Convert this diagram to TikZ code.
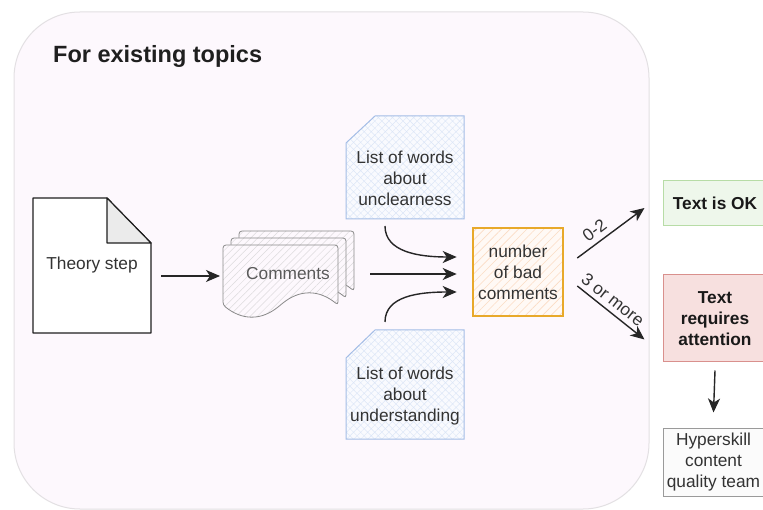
\documentclass[tikz,border=0pt]{standalone}
\usepackage{fontspec}
\setmainfont{Liberation Sans}
\usetikzlibrary{arrows.meta,patterns.meta,calc}
\definecolor{bigfill}{HTML}{FDF8FD}
\definecolor{bigdraw}{HTML}{E3E0E3}
\definecolor{carddraw}{HTML}{A4BDE6}
\definecolor{cardhatch}{HTML}{DCE6F7}
\definecolor{cardfill}{HTML}{F9FAFE}
\definecolor{numdraw}{HTML}{E8A92A}
\definecolor{numhatch}{HTML}{FBDCC4}
\definecolor{numfill}{HTML}{FFF9F5}
\definecolor{okdraw}{HTML}{B7DCA6}
\definecolor{okfill}{HTML}{EEF7EB}
\definecolor{reqdraw}{HTML}{D9908D}
\definecolor{reqfill}{HTML}{F7E0DF}
\definecolor{hypdraw}{HTML}{9A9A9A}
\definecolor{hypfill}{HTML}{FBFBFB}
\definecolor{commdraw}{HTML}{8A8A8A}
\definecolor{commhatch}{HTML}{DDDBDD}
\definecolor{txtc}{HTML}{333333}
\newcommand\mydocpage[5]{%
  \path[commdoc] (#1,#2) -- ({#1+#3},#2) -- ({#1+#3},{#2+#4-#5/2})
    .. controls ({#1+5*#3/6},{#2+#4-1.1*#5}) and ({#1+2*#3/3},{#2+#4-1.1*#5}) .. ({#1+#3/2},{#2+#4-#5/2})
    .. controls ({#1+#3/3},{#2+#4+0.1*#5}) and ({#1+#3/6},{#2+#4+0.1*#5}) .. (#1,{#2+#4-#5/2}) -- cycle;}
\tikzset{
  txt/.style={text=txtc, align=center, inner sep=0pt},
  arr/.style={-{Stealth[length=14pt,width=12pt,inset=4pt]}, line width=1.4pt, draw=black!85},
  ghost/.style={inner sep=0pt, outer sep=0pt},
  commdoc/.style={draw=commdraw, line width=0.8pt, rounded corners=3pt, preaction={fill=bigfill},
    pattern={Lines[angle=45,distance=5pt,line width=0.5pt]}, pattern color=commhatch},
  cardshape/.style={draw=carddraw, line width=1pt, preaction={fill=cardfill},
    pattern={Hatch[angle=45,distance=5pt,line width=0.45pt]}, pattern color=cardhatch},
  numbox/.style={draw=numdraw, line width=1.2pt, preaction={fill=numfill},
    pattern={Lines[angle=45,distance=6pt,line width=0.6pt]}, pattern color=numhatch,
    text=txtc, align=center, inner sep=0pt},
  okbox/.style={draw=okdraw, fill=okfill, line width=1pt, text=black!90, align=center, font=\bfseries\fontsize{17.3}{21}\selectfont, inner sep=0pt},
  reqbox/.style={draw=reqdraw, fill=reqfill, line width=1pt, text=black!90, align=center, font=\bfseries\fontsize{17.3}{21}\selectfont, inner sep=0pt},
  hypbox/.style={draw=hypdraw, fill=hypfill, line width=1pt, text=txtc, align=center, inner sep=0pt},
  lbl/.style={text=txtc, inner sep=0pt}
}
\begin{document}
\begin{tikzpicture}[x=1pt,y=-1pt,font=\fontsize{17.3}{21}\selectfont]
\useasboundingbox (0,0) rectangle (763,510);
\clip (0,0) rectangle (763,510);
\fill[white] (0,0) rectangle (763,510);
% container
\draw[draw=bigdraw, fill=bigfill, line width=1pt, rounded corners=66pt] (14,12) rectangle (649,509);
\node[anchor=west, text=black!88, inner sep=0pt, font=\bfseries\fontsize{23.5}{28}\selectfont] (title) at (53,56) {For existing topics};
% theory step document
\draw[draw=black!88, fill=white, line width=1.2pt, line join=round] (33,198) -- (107,198) -- (151,243) -- (151,333) -- (33,333) -- cycle;
\filldraw[draw=black!88, fill=black!8, line width=1.2pt, line join=round] (107,198) -- (107,243) -- (151,243) -- cycle;
\node[ghost, minimum width=118pt, minimum height=135pt, txt] (theory) at (92,265.5) {Theory step};
% comments multi-document
\mydocpage{239}{231}{115}{73}{26}
\mydocpage{231}{238}{115}{73}{26}
\mydocpage{223}{245}{115}{73}{26}
\node[ghost, minimum width=131pt, minimum height=87pt] (comm) at (288.5,274.5) {};
\node[txt, text=black!65] (commtxt) at (288,274) {Comments};
% cards
\path[cardshape] (346,143) -- (375,116) -- (464,116) -- (464,219) -- (346,219) -- cycle;
\node[ghost, minimum width=118pt, minimum height=103pt] (unc) at (405,167.5) {};
\node[txt] (unctxt) at (405,178) {List of words\\about\\unclearness};
\path[cardshape] (346,358) -- (375,330) -- (464,330) -- (464,439) -- (346,439) -- cycle;
\node[ghost, minimum width=118pt, minimum height=109pt] (und) at (405,384.5) {};
\node[txt] (undtxt) at (405,396) {List of words\\about\\understanding};
% number box
\node[numbox, minimum width=90pt, minimum height=88pt] (num) at (518,272) {number\\of bad\\comments};
% result boxes
\node[okbox, minimum width=104pt, minimum height=45pt] (ok) at (715,203) {Text is OK};
\node[reqbox, minimum width=104pt, minimum height=87pt] (req) at (715,318.5) {Text\\requires\\attention};
\node[hypbox, minimum width=100pt, minimum height=68pt] (hyp) at (713.5,462) {Hyperskill\\content\\quality team};
% connectors
\coordinate (yA) at (0,276);
\coordinate (yB) at (0,274);
\coordinate (yC) at (0,257);
\coordinate (yD) at (0,292);
\draw[arr] ($(theory.east |- yA)+(10,0)$) -- ($(comm.west |- yA)+(-3,0)$);
\draw[arr] ($(comm.east |- yB)+(16,0)$) -- ($(num.west |- yB)+(-16,0)$);
\draw[arr] ($(unc.south)+(-20,7)$) .. controls +(0,26) and +(-38,0) .. ($(num.west |- yC)+(-16,0)$);
\draw[arr] ($(und.north)+(-20,-8)$) .. controls +(0,-26) and +(-38,0) .. ($(num.west |- yD)+(-16,0)$);
\draw[arr] ($(num.east)+(14,-14)$) -- coordinate[pos=0.3] (m1) ($(ok.west)+(-18,5)$);
\draw[arr] ($(num.east)+(14,14)$) -- coordinate[pos=0.5] (m2) ($(req.west)+(-18,21)$);
\node[lbl, rotate=37] (l1) at ($(m1)+(-3,-13)$) {0-2};
\node[lbl, rotate=-38] (l2) at ($(m2)+(2,-13)$) {3 or more};
\draw[arr] ($(req.south)+(0,8)$) -- ($(hyp.north)+(0,-15)$);
\end{tikzpicture}
\end{document}
